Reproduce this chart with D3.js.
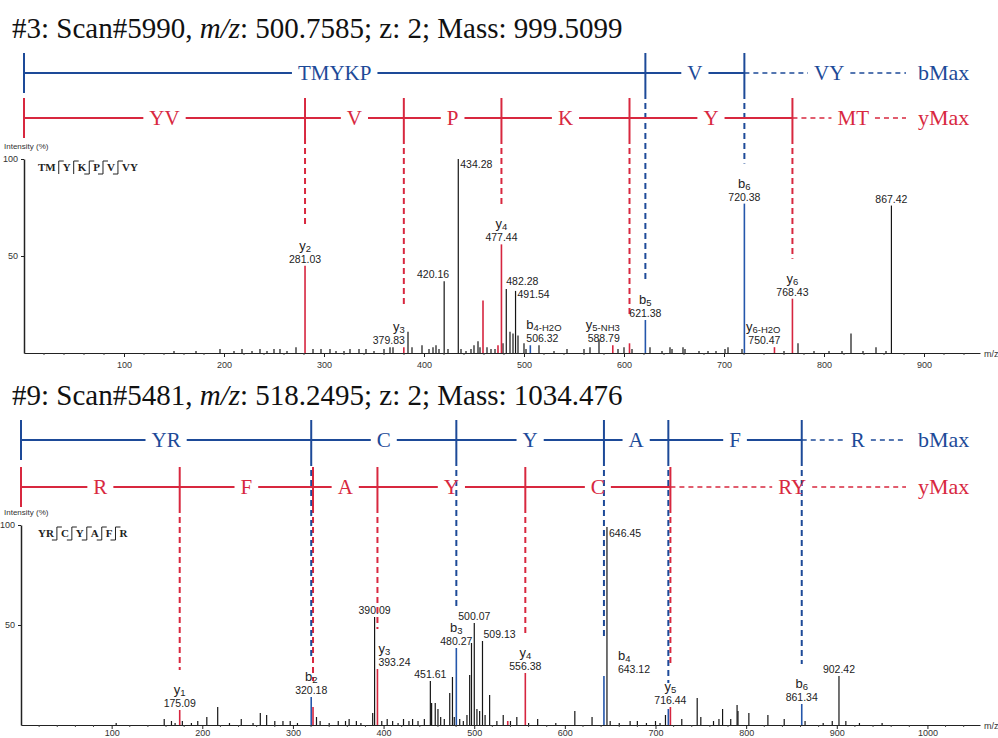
<!DOCTYPE html>
<html>
<head>
<meta charset="utf-8">
<script src="https://cdn.jsdelivr.net/npm/d3@7"></script>
<style>
  body { margin: 0; background: #fff; }
  text { font-family: Arial, 'Liberation Sans', sans-serif; }
  .serif { font-family: 'Liberation Serif', 'Times New Roman', serif; }
  .tag { font-family: 'Liberation Serif', serif; font-weight: bold; font-size: 11px; }
  .axis text { font-size: 9px; fill: #333; }
  .axis path, .axis line { stroke: #222; }
</style>
</head>
<body>
<svg id="chart" width="998" height="738"></svg>
<script>
'use strict'

// ---- scan #3 (5990) ----
const scan1Title = ['#3: Scan#5990, ', 'm/z', ': 500.7585; z: 2; Mass: 999.5099']
const scan1BCuts = [0, 621.38, 720.38]
const scan1BResidues = ['TMYKP', 'V']
const scan1BTail = 'VY'
const scan1YCuts = [0, 281.03, 379.83, 477.44, 605.5, 768.43]
const scan1YResidues = ['YV', 'V', 'P', 'K', 'Y']
const scan1YTail = 'MT'
const scan1Tag = ['TM', 'Y', 'K', 'P', 'V', 'VY']
const scan1TagMarks = ['y', 'y', 'yb', 'yb', 'yb']
const scan1Ticks = [100, 200, 300, 400, 500, 600, 700, 800, 900]
// [m/z, intensity %]
const scan1Other = [
  [150, 1], [172, 1], [196, 2], [210, 1], [218, 2], [228, 1], [236, 2], [243, 1], [250, 2], [256, 2],
  [263, 1], [272, 3], [289, 2], [297, 2], [306, 2], [312, 1], [320, 1], [326, 2], [335, 2], [342, 2],
  [350, 1], [360, 2], [366, 3], [369, 3], [384, 11], [388, 3], [398, 4], [405, 2], [409, 3], [412, 4],
  [415, 2], [420.16, 37], [424, 2], [434.28, 100], [437, 2], [442, 1], [447, 2], [450, 4], [454, 6],
  [456, 3], [463, 3], [467, 2], [471, 2], [479, 5], [482.28, 33], [486, 11], [489, 10], [491.54, 32],
  [494, 9], [500, 5], [502, 2], [515, 4], [530, 1], [543, 2], [560, 2], [566, 3], [575, 7], [594, 2],
  [600, 3], [608, 2], [626, 3], [638, 1], [646, 3], [648, 2], [659, 3], [661, 2], [675, 1], [684, 1],
  [692, 1], [701, 2], [704, 3], [718, 2], [760, 1], [774, 5], [790, 1], [805, 1], [818, 1], [827, 10],
  [839, 1], [852, 3], [862, 1], [867.42, 76]
]
const scan1YIons = [[281.03, 45], [379.83, 3], [459, 27], [474, 4], [477.44, 56], [588.79, 4], [605.5, 5], [750.47, 3], [768.43, 28]]
const scan1BIons = [[506.32, 4], [621.38, 17], [720.38, 77]]
// [m/z, ion name, text]
const scan1Labels = [
  [281.03, 'y2', '281.03'], [379.83, 'y3', '379.83'], [420.16, '', '420.16'], [434.28, '', '434.28'],
  [477.44, 'y4', '477.44'], [482.28, '', '482.28'], [491.54, '', '491.54'], [506.32, 'b4-H2O', '506.32'],
  [588.79, 'y5-NH3', '588.79'], [621.38, 'b5', '621.38'], [720.38, 'b6', '720.38'],
  [750.47, 'y6-H2O', '750.47'], [768.43, 'y6', '768.43'], [867.42, '', '867.42']
]

// ---- scan #9 (5481) ----
const scan2Title = ['#9: Scan#5481, ', 'm/z', ': 518.2495; z: 2; Mass: 1034.476']
const scan2BCuts = [0, 320.18, 480.27, 643.12, 714.16, 861.34]
const scan2BResidues = ['YR', 'C', 'Y', 'A', 'F']
const scan2BTail = 'R'
const scan2YCuts = [0, 175.09, 322.16, 393.24, 556.38, 716.44]
const scan2YResidues = ['R', 'F', 'A', 'Y', 'C']
const scan2YTail = 'RY'
const scan2Tag = ['YR', 'C', 'Y', 'A', 'F', 'R']
const scan2TagMarks = ['yb', 'yb', 'yb', 'yb', 'yb']
const scan2Ticks = [100, 200, 300, 400, 500, 600, 700, 800, 900, 1000]
const scan2Other = [
  [105, 1], [158, 3], [166, 2], [170, 1], [178, 2], [188, 1], [195, 2], [205, 4], [217, 9], [230, 1],
  [243, 3], [256, 1], [264, 6], [271, 5], [280, 2], [289, 2], [297, 2], [305, 1], [326, 4], [330, 2],
  [340, 1], [350, 2], [358, 2], [362, 3], [370, 2], [375, 1], [388, 6], [390.09, 54], [398, 2], [404, 3],
  [410, 2], [416, 1], [422, 3], [428, 2], [432, 3], [438, 2], [445, 3], [451.61, 22], [453, 11], [457, 11],
  [460, 8], [463, 4], [467, 3], [473, 16], [476, 24], [478, 4], [484, 3], [488, 2], [492, 5], [495, 25],
  [497, 41], [500.07, 51], [503, 8], [506, 7], [509.13, 42], [512, 5], [517, 15], [525, 2], [532, 5],
  [540, 2], [547, 4], [560, 1], [570, 3], [590, 1], [611, 7], [630, 4], [646.45, 99], [650, 2], [660, 1],
  [672, 2], [680, 2], [690, 1], [700, 2], [705, 1], [711, 5], [729, 3], [746, 13.5], [750, 4], [764, 2],
  [770, 3], [774, 8], [783, 3], [790, 10], [791, 7], [803, 6], [824, 5], [842, 3], [865, 2], [885, 1],
  [895, 2], [902.42, 24.5], [910, 2], [925, 1], [950, 1]
]
const scan2YIons = [[175.09, 7.5], [322.16, 9], [393.24, 28], [537, 2], [556.38, 26], [716.44, 9]]
const scan2BIons = [[320.18, 14], [480.27, 38.5], [643.12, 24.5], [714.16, 8], [861.34, 10.5]]
const scan2Labels = [
  [175.09, 'y1', '175.09'], [320.18, 'b2', '320.18'], [390.09, '', '390.09'], [393.24, 'y3', '393.24'],
  [451.61, '', '451.61'], [480.27, 'b3', '480.27'], [500.07, '', '500.07'], [509.13, '', '509.13'],
  [556.38, 'y4', '556.38'], [643.12, 'b4', '643.12'], [646.45, '', '646.45'], [716.44, 'y5', '716.44'],
  [861.34, 'b6', '861.34'], [902.42, '', '902.42']
]

// label placement (layout only): anchor, x shift, y shift in px
const labelPlace = {
  '379.83': ['end', 1, 0], '420.16': ['end', 5, 0], '434.28': ['start', 2, 12], '482.28': ['start', 0, -1],
  '491.54': ['start', 2, 10], '506.32': ['start', -4, 0], '588.79': ['end', 7, 0], '750.47': ['end', 6, 0],
  '393.24': ['start', 1, 0], '509.13': ['start', 1, 0], '646.45': ['start', 2, 13], '643.12': ['start', 14, 0]
}

const BLUE = '#1d4a98'
const RED = '#d8283f'
const PEAK = { o: '#151515', y: '#d6253f', b: '#2456ab' }

const svg = d3.select('#chart')

function drawTitle (y, parts) {
  const t = svg.append('text').attr('class', 'serif').attr('x', 12).attr('y', y)
    .attr('font-size', 29).attr('fill', '#111')
  parts.forEach((p, i) => {
    t.append('tspan').attr('font-style', i === 1 ? 'italic' : 'normal').text(p)
  })
}

function drawLadder (x, y, cuts, residues, tail, name, color) {
  const g = svg.append('g').attr('stroke', color).attr('fill', color)
  const half = 20
  const txt = (cx, s) => {
    const t = g.append('text').attr('class', 'serif').attr('x', cx).attr('y', y + 7)
      .attr('text-anchor', 'middle').attr('font-size', 21).attr('stroke', 'none').text(s)
    return t.node().getComputedTextLength()
  }
  residues.forEach((r, i) => {
    const a = x(cuts[i])
    const b = x(cuts[i + 1])
    const cx = (a + b) / 2
    const w = txt(cx, r)
    g.append('line').attr('x1', a).attr('x2', cx - w / 2 - 6).attr('y1', y).attr('y2', y).attr('stroke-width', 2)
    g.append('line').attr('x1', cx + w / 2 + 6).attr('x2', b).attr('y1', y).attr('y2', y).attr('stroke-width', 2)
  })
  cuts.forEach(c => {
    g.append('line').attr('x1', x(c)).attr('x2', x(c)).attr('y1', y - half).attr('y2', y + half)
      .attr('stroke-width', 2)
  })
  const last = x(cuts[cuts.length - 1])
  const cx = (last + 914) / 2
  const w = txt(cx, tail)
  g.append('line').attr('x1', last).attr('x2', cx - w / 2 - 6).attr('y1', y).attr('y2', y)
    .attr('stroke-width', 1.5).attr('stroke-dasharray', '5,4')
  g.append('line').attr('x1', cx + w / 2 + 6).attr('x2', 906).attr('y1', y).attr('y2', y)
    .attr('stroke-width', 1.5).attr('stroke-dasharray', '5,4')
  g.append('text').attr('class', 'serif').attr('x', 918).attr('y', y + 7).attr('font-size', 22)
    .attr('stroke', 'none').text(name)
}

function drawTag (x0, y0, groups, marks) {
  const g = svg.append('g').attr('stroke', '#222').attr('stroke-width', 1)
  let x = x0
  groups.forEach((s, i) => {
    const t = g.append('text').attr('class', 'tag').attr('x', x).attr('y', y0)
      .attr('stroke', 'none').attr('fill', '#222').text(s)
    x += t.node().getComputedTextLength()
    if (i < marks.length) {
      x += 3
      const m = marks[i]
      g.append('line').attr('x1', x).attr('x2', x).attr('y1', y0 - 10).attr('y2', y0 + 3)
      if (m.includes('y')) g.append('line').attr('x1', x).attr('x2', x + 5).attr('y1', y0 - 10).attr('y2', y0 - 10)
      if (m.includes('b')) g.append('line').attr('x1', x - 5).attr('x2', x).attr('y1', y0 + 3).attr('y2', y0 + 3)
      x += 4
    }
  })
}

function drawScan (o) {
  const x = d3.scaleLinear().domain(o.domain).range([o.left, 980])
  const y = d3.scaleLinear().domain([0, 100]).range([o.bottom, o.top])

  drawTitle(o.titleY, o.title)

  // ladder connectors down to the matching peaks
  const all = o.other.map(d => ({ mz: d[0], v: d[1], t: 'o' }))
    .concat(o.yIons.map(d => ({ mz: d[0], v: d[1], t: 'y' })))
    .concat(o.bIons.map(d => ({ mz: d[0], v: d[1], t: 'b' })))
  const labelled = new Set(o.labels.filter(d => d[1]).map(d => d[0]))
  const connect = (cuts, ly, color) => {
    cuts.slice(1).forEach(c => {
      const p = all.find(d => Math.abs(d.mz - c) < 0.01)
      const end = y(p.v) - (labelled.has(c) ? 40 : 26)
      svg.append('line').attr('x1', x(c)).attr('x2', x(c)).attr('y1', ly + 20).attr('y2', end)
        .attr('stroke', color).attr('stroke-width', 2).attr('stroke-dasharray', '6,4')
    })
  }
  connect(o.yCuts, o.yLadder, RED)
  connect(o.bCuts, o.bLadder, BLUE)

  drawLadder(x, o.bLadder, o.bCuts, o.bRes, o.bTail, 'bMax', BLUE)
  drawLadder(x, o.yLadder, o.yCuts, o.yRes, o.yTail, 'yMax', RED)

  // peaks
  svg.append('g').selectAll('line').data(all).join('line')
    .attr('x1', d => x(d.mz)).attr('x2', d => x(d.mz))
    .attr('y1', y(0)).attr('y2', d => y(d.v))
    .attr('stroke', d => PEAK[d.t]).attr('stroke-width', d => d.t === 'o' ? 1.2 : 1.6)

  // axes
  const xAxis = d3.axisBottom(x).tickValues(o.ticks).tickFormat(d3.format('d')).tickSize(4).tickSizeOuter(0)
  svg.append('g').attr('class', 'axis').attr('transform', `translate(0,${y(0)})`).call(xAxis)
    .call(g => g.selectAll('text').attr('y', o.tickText).attr('dy', 0))
  const minor = d3.range(20, o.domain[1], 20).filter(v => v % 100 !== 0)
  svg.append('g').selectAll('line').data(minor).join('line')
    .attr('x1', d => x(d)).attr('x2', d => x(d)).attr('y1', y(0)).attr('y2', y(0) + 2)
    .attr('stroke', '#444')
  svg.append('text').attr('x', 984).attr('y', y(0) + 4).attr('font-size', 9).attr('fill', '#333').text('m/z')

  const yAxis = d3.axisLeft(y).tickValues([50, 100]).tickSize(3).tickSizeOuter(0)
  svg.append('g').attr('class', 'axis').attr('transform', `translate(${o.left},0)`).call(yAxis)
    .call(g => g.select('.domain').attr('stroke-width', 1.5))
  svg.append('text').attr('x', 4).attr('y', o.top - 10).attr('font-size', 8).attr('fill', '#333')
    .text('Intensity (%)')

  drawTag(38, o.top + 12, o.tag, o.tagMarks)

  // peak labels
  o.labels.forEach(([mz, ion, txt]) => {
    const p = all.find(d => Math.abs(d.mz - mz) < 0.01)
    const place = labelPlace[txt] || ['middle', 0, 0]
    const lx = x(mz) + place[1]
    const base = y(p.v) - 3 + place[2]
    svg.append('text').attr('x', lx).attr('y', base).attr('text-anchor', place[0])
      .attr('font-size', 10.5).attr('fill', '#222').text(txt)
    if (ion) {
      const t = svg.append('text').attr('x', lx).attr('y', base - 13).attr('text-anchor', place[0])
        .attr('fill', '#222')
      t.append('tspan').attr('font-size', 13).text(ion[0])
      t.append('tspan').attr('font-size', 9.5).attr('dy', 2).text(ion.slice(1))
    }
  })
}

drawScan({
  title: scan1Title, titleY: 38, bLadder: 73, yLadder: 118, top: 159, bottom: 353,
  left: 24, domain: [0, 956], ticks: scan1Ticks, tickText: 15,
  bCuts: scan1BCuts, bRes: scan1BResidues, bTail: scan1BTail,
  yCuts: scan1YCuts, yRes: scan1YResidues, yTail: scan1YTail,
  other: scan1Other, yIons: scan1YIons, bIons: scan1BIons, labels: scan1Labels,
  tag: scan1Tag, tagMarks: scan1TagMarks
})
drawScan({
  title: scan2Title, titleY: 405, bLadder: 440, yLadder: 487, top: 525, bottom: 725,
  left: 21, domain: [0, 1058], ticks: scan2Ticks, tickText: 11,
  bCuts: scan2BCuts, bRes: scan2BResidues, bTail: scan2BTail,
  yCuts: scan2YCuts, yRes: scan2YResidues, yTail: scan2YTail,
  other: scan2Other, yIons: scan2YIons, bIons: scan2BIons, labels: scan2Labels,
  tag: scan2Tag, tagMarks: scan2TagMarks
})
</script>
</body>
</html>
